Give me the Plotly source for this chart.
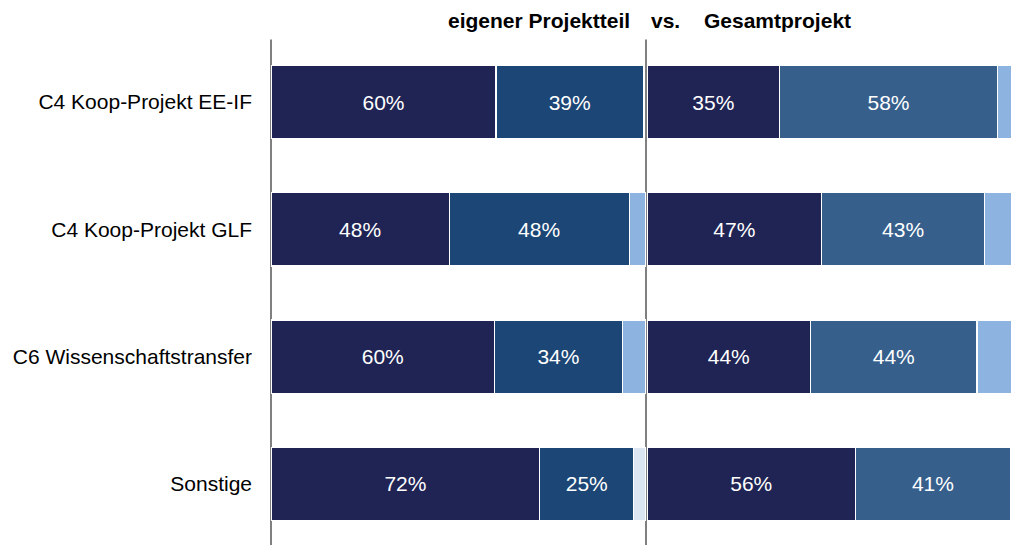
import plotly.graph_objects as go

categories = ["C4 Koop-Projekt EE-IF", "C4 Koop-Projekt GLF", "C6 Wissenschaftstransfer", "Sonstige"]

# eigener Projektteil (left panel), percentages
own_s1 = [60.0, 47.5, 59.6, 71.7]
own_s2 = [39.3, 48.0, 34.1, 25.0]
own_s3 = [0.0, 4.5, 6.3, 0.0]
own_s4 = [0.0, 0.0, 0.0, 3.3]

# Gesamtprojekt (right panel), percentages
tot_s1 = [35.4, 46.6, 43.6, 55.6]
tot_s2 = [58.0, 43.4, 44.4, 41.3]
tot_s3 = [6.6, 10.0, 12.0, 0.0]
tot_s4 = [0.0, 0.0, 0.0, 3.1]

NAVY = "#1f2454"
MID_L = "#1b4675"
MID_R = "#365f8c"
LIGHT = "#8db3e0"
PALE = "#dce6f2"

W, H = 1011, 545
FONT = "Liberation Sans, Arial"
fig = go.Figure()

def add(vals, color, xaxis, labels):
    fig.add_trace(go.Bar(
        y=categories, x=vals, orientation="h", xaxis=xaxis, yaxis="y",
        marker=dict(color=color, line=dict(color="white", width=1.2)),
        width=0.575,
        text=[f"{round(v)}%" if labels else "" for v in vals],
        textposition="inside", insidetextanchor="middle", textangle=0,
        textfont=dict(color="white", size=21, family=FONT),
        hoverinfo="skip", showlegend=False,
    ))

add(own_s1, NAVY, "x", True)
add(own_s2, MID_L, "x", True)
add(own_s3, LIGHT, "x", False)
add(own_s4, PALE, "x", False)
add(tot_s1, NAVY, "x2", True)
add(tot_s2, MID_R, "x2", True)
add(tot_s3, LIGHT, "x2", False)
add(tot_s4, PALE, "x2", False)

x0 = 271 / W
xm = 646 / W
xr = 647 / W
px_per_pct = 375 / 100
right_range = (W - 647) / px_per_pct

T = 38
B = 0
title_y = 1 + (T - 20) / (H - T - B)

fig.update_layout(
    width=W, height=H,
    margin=dict(l=0, r=0, t=T, b=B, pad=0),
    barmode="stack",
    plot_bgcolor="white", paper_bgcolor="white",
    font=dict(family=FONT, color="black"),
    xaxis=dict(domain=[x0, xm], range=[0, 100], visible=False, fixedrange=True),
    xaxis2=dict(domain=[xr, 1.0], range=[0, right_range], visible=False, fixedrange=True),
    yaxis=dict(categoryorder="array", categoryarray=categories, range=[3.48, -0.503],
               anchor="x", showgrid=False, zeroline=False, showline=False,
               ticks="", ticklabelstandoff=18, automargin=False, fixedrange=True,
               tickfont=dict(size=21, color="black", family=FONT)),
    shapes=[
        dict(type="line", xref="paper", yref="paper", x0=x0, x1=x0, y0=0, y1=0.997,
             line=dict(color="#808080", width=2), layer="below"),
        dict(type="line", xref="paper", yref="paper", x0=xm, x1=xm, y0=0, y1=0.997,
             line=dict(color="#808080", width=2), layer="below"),
    ],
    annotations=[
        dict(text="<b>eigener Projektteil</b>", x=539 / W, y=title_y, xref="paper", yref="paper",
             xanchor="center", yanchor="middle", showarrow=False, font=dict(size=21)),
        dict(text="<b>vs.</b>", x=665 / W, y=title_y, xref="paper", yref="paper",
             xanchor="center", yanchor="middle", showarrow=False, font=dict(size=21)),
        dict(text="<b>Gesamtprojekt</b>", x=777 / W, y=title_y, xref="paper", yref="paper",
             xanchor="center", yanchor="middle", showarrow=False, font=dict(size=21)),
    ],
)

fig.write_html(
    "out.html",
    config={"displayModeBar": False},
    post_script="document.body.style.margin='0';document.body.style.overflow='hidden';",
)
